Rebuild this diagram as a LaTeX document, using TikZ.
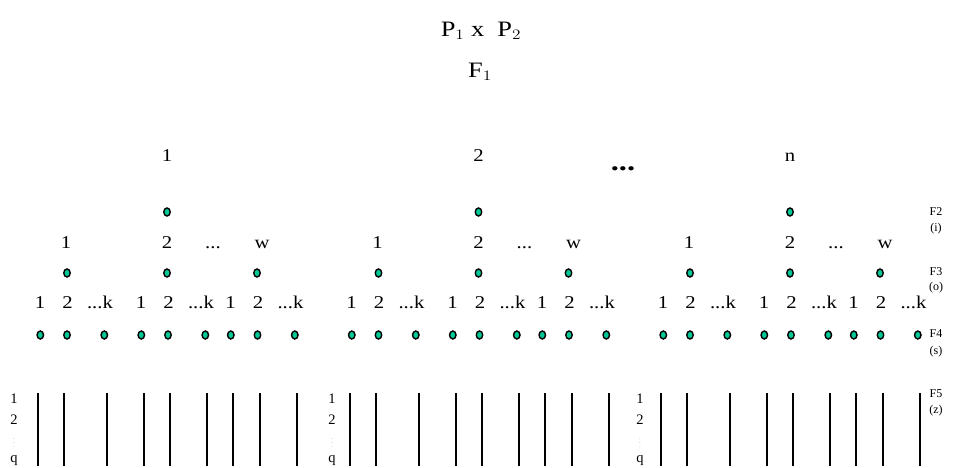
\documentclass[tikz,border=0pt]{standalone}
\usepackage{fontspec}
\usepackage{graphicx}
\setmainfont{Liberation Serif}
\usetikzlibrary{shapes.geometric}
\definecolor{dotgreen}{RGB}{0,200,150}
\newcommand{\wide}[1]{\scalebox{1.15}[1]{#1}}
\begin{document}
\begin{tikzpicture}[x=1pt,y=-1pt,
  lbl/.style={inner sep=0pt,anchor=base,font=\fontsize{18}{20}\selectfont},
  small/.style={inner sep=0pt,font=\fontsize{12}{13}\selectfont},
  side/.style={inner sep=0pt,anchor=base,font=\fontsize{14.5}{15}\selectfont},
  dotnode/.style={ellipse,draw=black,fill=dotgreen,line width=1.4pt,minimum width=6.5pt,minimum height=8pt,inner sep=0pt},
  bar/.style={line width=2pt}]
\useasboundingbox (0,0) rectangle (959,468);
\node[inner sep=0pt,font=\fontsize{22}{24}\selectfont] (title) at (481,31) {\scalebox{1.2}[1]{P$_1$ x\ \ P$_2$}};
\node[inner sep=0pt,font=\fontsize{22}{24}\selectfont] (f1) at (480,72) {\scalebox{1.2}[1]{F$_1$}};
\node[lbl,font=\fontsize{26}{28}\selectfont\bfseries] (topdots) at (623,171) {\scalebox{1.25}[1]{...}};
\foreach \g/\t/\lx [count=\i] in {0/1/14,311.5/2/332,623/n/640}{
  \node[lbl] (top\i) at (167+\g,161) {\wide{\t}};
  \node[dotnode] (ftwo\i) at (167+\g,212) {};
  \node[lbl] (s\i a) at (66+\g,248) {\wide{1}};
  \node[lbl] (s\i b) at (167+\g,248) {\wide{2}};
  \node[lbl] (s\i c) at (213+\g,248) {\wide{...}};
  \node[lbl] (s\i d) at (262+\g,248) {\wide{w}};
  \foreach \x [count=\j] in {67,167,257}
    \node[dotnode] (fthree\i\j) at (\x+\g,273) {};
  \foreach \sx [count=\j] in {0,101,190.5}{
    \node[lbl] (t\i\j a) at (40+\sx+\g,308) {\wide{1}};
    \node[lbl] (t\i\j b) at (67.5+\sx+\g,308) {\wide{2}};
    \node[lbl] (t\i\j c) at (100+\sx+\g,308) {\wide{...k}};
    \node[dotnode] (ffour\i\j a) at (40.3+\sx+\g,335) {};
    \node[dotnode] (ffour\i\j b) at (67+\sx+\g,335) {};
    \node[dotnode] (ffour\i\j c) at (104.3+\sx+\g,335) {};
  }
  \foreach \x in {38,64,107,144,170,207,233,260,297}
    \draw[bar] (\x+\g,393) -- (\x+\g,466);
  \node[side] (q\i a) at (\lx,403) {1};
  \node[side] (q\i b) at (\lx,424) {2};
  \node[inner sep=0pt,font=\fontsize{7}{7}\selectfont,text=gray!70] (q\i c) at (\lx,440) {$\vdots$};
  \node[side] (q\i d) at (\lx,462) {q};
}
\node[small] (F2) at (936,212) {F2};
\node[small] (i) at (936,229) {(i)};
\node[small] (F3) at (936,272) {F3};
\node[small] (o) at (936,288) {(o)};
\node[small] (F4) at (936,334) {F4};
\node[small] (s) at (936,352) {(s)};
\node[small] (F5) at (936,394) {F5};
\node[small] (z) at (936,411) {(z)};
\end{tikzpicture}
\end{document}
